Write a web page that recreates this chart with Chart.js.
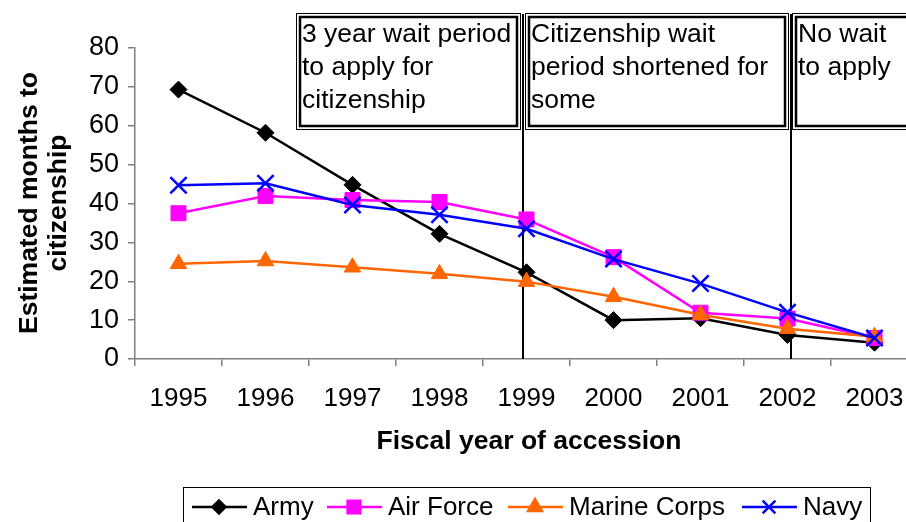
<!DOCTYPE html>
<html lang="en">
<head>
    <meta charset="UTF-8">
    <title>Estimated months to citizenship</title>
    <script src="https://cdn.jsdelivr.net/npm/chart.js"></script>
    <style>
        html, body {
            margin: 0;
            padding: 0;
            background: #fff;
            overflow: hidden;
            width: 906px;
            height: 522px;
        }
        #chart {
            position: absolute;
            left: 0;
            top: 0;
        }
    </style>
</head>
<body>
    <canvas id="chart" width="932" height="522"></canvas>

    <script>
        // fiscal years on the x axis
        const years = ['1995', '1996', '1997', '1998', '1999', '2000', '2001', '2002', '2003'];

        // estimated months to citizenship, one list per service
        const army = [69.3, 58.2, 44.8, 32.2, 22.3, 10.0, 10.5, 6.2, 4.2];
        const airForce = [37.5, 41.9, 40.9, 40.4, 35.9, 26.2, 11.9, 10.4, 5.4];
        const marineCorps = [24.5, 25.2, 23.6, 21.9, 19.9, 16.0, 11.4, 7.8, 5.7];
        const navy = [44.7, 45.2, 39.6, 37.1, 33.5, 25.7, 19.4, 12.0, 5.4];

        const yTicks = [0, 10, 20, 30, 40, 50, 60, 70, 80];

        // policy periods shown in the boxes at the top (in category units)
        const periods = [
            { lines: ['3 year wait period', 'to apply for', 'citizenship'], from: 1.347, to: 3.932 },
            { lines: ['Citizenship wait', 'period shortened for', 'some'], from: 3.978, to: 7.02 },
            { lines: ['No wait', 'to apply'], from: 7.056, to: 9.5 }
        ];
        // vertical lines marking the policy changes
        const markers = [3.962, 7.035];

        const seriesNames = ['Army', 'Air Force', 'Marine Corps', 'Navy'];
        const seriesColors = ['#000000', '#ff00ff', '#ff6600', '#0000ff'];
        const seriesPoints = ['rectRot', 'rect', 'triangle', 'crossRot'];
        const seriesRadius = [8.5, 10.6, 9.5, 11.5];
        const legendRadius = [6.5, 9, 8, 9];

        const FONT = '"Liberation Sans", Arial, sans-serif';

        // draws titles, period boxes, vertical lines and the legend
        const decorations = {
            id: 'decorations',
            beforeDatasetsDraw(chart) {
                const ctx = chart.ctx;
                const x = chart.scales.x;
                const y = chart.scales.y;
                ctx.save();
                ctx.strokeStyle = '#000';
                ctx.lineWidth = 2;
                markers.forEach(m => {
                    const px = Math.round(x.getPixelForValue(m));
                    ctx.beginPath();
                    ctx.moveTo(px, y.getPixelForValue(0));
                    ctx.lineTo(px, 14);
                    ctx.stroke();
                });
                ctx.restore();
            },
            afterDraw(chart) {
                const ctx = chart.ctx;
                const x = chart.scales.x;
                ctx.save();

                // period boxes (double border)
                periods.forEach(p => {
                    const l = Math.round(x.getPixelForValue(p.from));
                    const r = Math.round(x.getPixelForValue(p.to));
                    const t = 13, b = 130;
                    ctx.fillStyle = '#fff';
                    ctx.fillRect(l, t, r - l, b - t);
                    ctx.strokeStyle = '#000';
                    ctx.lineWidth = 1;
                    ctx.strokeRect(l + 0.5, t + 0.5, r - l - 1, b - t - 1);
                    ctx.lineWidth = 2.5;
                    ctx.strokeRect(l + 4, t + 4, r - l - 8, b - t - 8);
                    ctx.fillStyle = '#000';
                    ctx.font = '26.5px ' + FONT;
                    ctx.textBaseline = 'middle';
                    ctx.textAlign = 'left';
                    p.lines.forEach((s, i) => {
                        ctx.fillText(s, l + 6, 35 + i * 33);
                    });
                });

                // axis titles
                ctx.fillStyle = '#000';
                ctx.font = 'bold 26.5px ' + FONT;
                ctx.textAlign = 'center';
                ctx.textBaseline = 'middle';
                ctx.fillText('Fiscal year of accession', 529, 442);
                ctx.save();
                ctx.translate(30, 203);
                ctx.rotate(-Math.PI / 2);
                ctx.fillText('Estimated months to', 0, 0);
                ctx.fillText('citizenship', 0, 29);
                ctx.restore();

                // legend
                const lx = 183, ly = 487, lw = 687, lh = 40;
                ctx.strokeStyle = '#000';
                ctx.lineWidth = 1;
                ctx.strokeRect(lx + 0.5, ly + 0.5, lw, lh);
                const itemX = [192, 327, 508, 742];
                ctx.font = '26px ' + FONT;
                ctx.textAlign = 'left';
                seriesNames.forEach((name, i) => {
                    const sx = itemX[i];
                    const cy = 507;
                    ctx.strokeStyle = seriesColors[i];
                    ctx.lineWidth = 2.5;
                    ctx.beginPath();
                    ctx.moveTo(sx, cy);
                    ctx.lineTo(sx + 55, cy);
                    ctx.stroke();
                    ctx.fillStyle = seriesColors[i];
                    Chart.helpers.drawPoint(ctx, {
                        pointStyle: seriesPoints[i],
                        radius: legendRadius[i],
                        rotation: 0,
                        borderWidth: i === 3 ? 2.5 : 1
                    }, sx + 27, cy);
                    ctx.fillStyle = '#000';
                    ctx.fillText(name, sx + 61, cy + 1);
                });
                ctx.restore();
            }
        };

        const datasets = [army, airForce, marineCorps, navy].map((values, i) => ({
            label: seriesNames[i],
            data: values,
            borderColor: seriesColors[i],
            backgroundColor: seriesColors[i],
            borderWidth: 2.5,
            pointStyle: seriesPoints[i],
            pointRadius: seriesRadius[i],
            pointBorderWidth: i === 3 ? 2.5 : 1,
            tension: 0,
            order: 3 - i
        }));

        new Chart(document.getElementById('chart'), {
            type: 'line',
            data: { labels: years, datasets: datasets },
            plugins: [decorations],
            options: {
                responsive: false,
                animation: false,
                layout: { padding: { left: 0, right: 5, top: 48, bottom: 0 } },
                plugins: {
                    legend: { display: false },
                    tooltip: { enabled: false }
                },
                scales: {
                    x: {
                        offset: true,
                        grid: {
                            offset: true,
                            drawOnChartArea: false,
                            tickLength: 7,
                            color: '#808080',
                            lineWidth: 1.5
                        },
                        border: { color: '#808080', width: 1.5 },
                        ticks: {
                            color: '#000',
                            font: { family: FONT, size: 26 },
                            padding: 17,
                            maxRotation: 0,
                            autoSkip: false
                        },
                        afterFit(scale) { scale.height = 163; }
                    },
                    y: {
                        min: 0,
                        max: 80,
                        afterBuildTicks(scale) {
                            scale.ticks = yTicks.map(v => ({ value: v }));
                        },
                        grid: {
                            drawOnChartArea: false,
                            tickLength: 7,
                            color: '#808080',
                            lineWidth: 1.5
                        },
                        border: { color: '#808080', width: 1.5 },
                        ticks: {
                            color: '#000',
                            font: { family: FONT, size: 27 },
                            padding: 9
                        },
                        afterFit(scale) { scale.width = 135; }
                    }
                }
            }
        });
    </script>
</body>
</html>
